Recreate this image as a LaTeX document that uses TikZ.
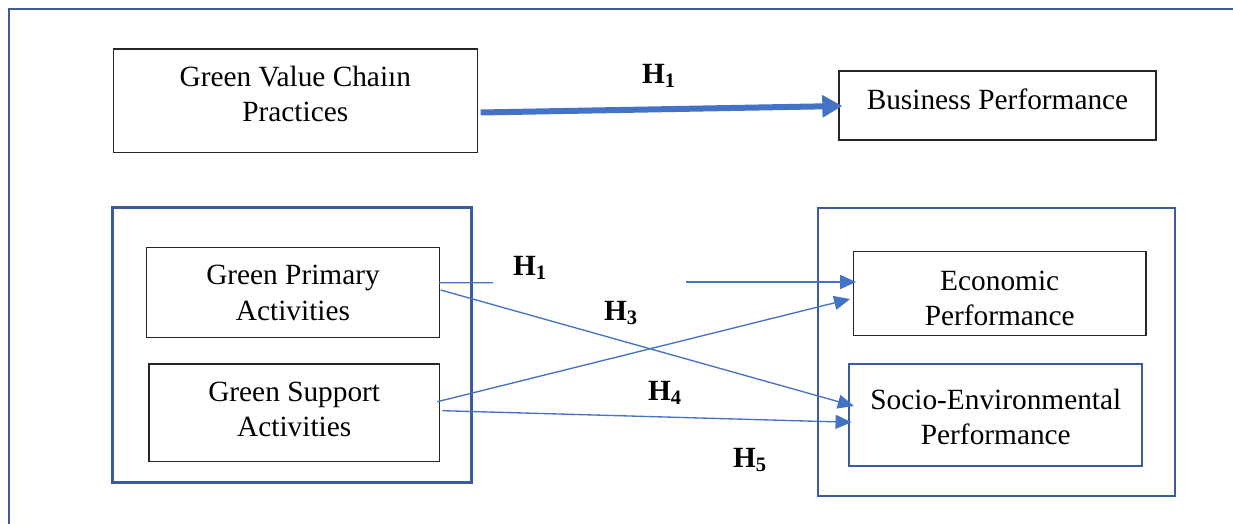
\documentclass[tikz,border=0pt]{standalone}
\usepackage{fontspec}
\setmainfont{Liberation Serif}
\usetikzlibrary{arrows.meta,calc}
\definecolor{arrblue}{HTML}{4472C4}
\definecolor{frameblue}{HTML}{3A5C9F}
\newcommand\liftby[2]{\raisebox{#1}[\height][\depth]{\begin{tabular}{@{}c@{}}#2\end{tabular}}}
\tikzset{
  txt/.style={font=\fontsize{22}{26.3}\selectfont, inner sep=0pt},
  blackbox/.style={txt, draw=black!85, line width=1pt, rectangle},
  bluebox/.style={txt, draw=frameblue, line width=1.7pt, rectangle},
  groupframe/.style={draw=frameblue, line width=2.2pt, rectangle, inner sep=0pt},
  hlabel/.style={font=\fontsize{22}{26}\selectfont\bfseries, inner sep=0pt},
  thinarr/.style={draw=arrblue, line width=1pt, -{Triangle[length=12pt,width=10.5pt]}},
  thinline/.style={draw=arrblue, line width=1pt},
  thickarr/.style={draw=arrblue, line width=4.5pt, -{Triangle[length=15pt,width=16pt]}}
}
\begin{document}
\begin{tikzpicture}[x=0.75pt,y=-0.75pt]
\useasboundingbox (0,0) rectangle (1233,524);
\clip (0,0) rectangle (1233,524);
% outer frame (partly outside the page)
\draw[frameblue, line width=2pt] (9,560) -- (9,9) -- (1260,9);

% top row
\node[blackbox, minimum width=273pt, minimum height=77.8pt] (gvcp) at (295.3,100.9) {\liftby{3pt}{Green Value Chaiın\\Practices}};
\node[blackbox, minimum width=237.75pt, minimum height=51.75pt] (bp) at (997.5,105.5) {\liftby{2.25pt}{Business Performance}};

% group frames
\node[groupframe, minimum width=268.7pt, minimum height=206.5pt] (lf) at (291.9,345) {};
\node[groupframe, minimum width=267.75pt, minimum height=216pt] (rf) at (996.5,352) {};

% inner boxes
\node[blackbox, minimum width=219.5pt, minimum height=67.2pt] (gpa) at (293,292.5) {\liftby{-2.25pt}{Green Primary\\Activities}};
\node[blackbox, minimum width=217.7pt, minimum height=73.3pt] (gsa) at (294.2,412.9) {\liftby{0.5pt}{Green Support\\Activities}};
\node[blackbox, minimum width=219.5pt, minimum height=63pt] (econ) at (999.7,293.7) {\liftby{-5.25pt}{Economic\\Performance}};
\node[bluebox, minimum width=219.75pt, minimum height=76.3pt] (socio) at (995.8,415.2) {\liftby{-3.5pt}{Socio-Environmental\\Performance}};

% thick arrow
\draw[thickarr] ($(gvcp.east)+(2.7,11.6)$) -- ($(bp.west)+(4,0.5)$);
\node[hlabel] (h1top) at (659,76) {H\textsubscript{1}};

% broken H1 arrow
\coordinate (h1a) at (493,282.7);
\coordinate (h1b) at (686,282);
\draw[thinline] ($(gpa.east)+(-1,-9.8)$) -- (h1a);
\draw[thinarr] (h1b) -- ($(econ.west)+(3.4,-11.7)$);

% crossing arrows
\draw[thinarr] ($(gpa.east)+(0.7,-2.5)$) -- ($(socio.west)+(5.7,-9.2)$);
\draw[thinarr] ($(gsa.east)+(-2.6,-11.2)$) -- ($(econ.west)+(-2.6,5.3)$);
\draw[thinarr] ($(gsa.east)+(2.4,-2.2)$) -- ($(socio.west)+(3.4,7.1)$);

% labels
\node[hlabel] (h1) at (530,268) {H\textsubscript{1}};
\node[hlabel] (h3) at (621,313) {H\textsubscript{3}};
\node[hlabel] (h4) at (665,393) {H\textsubscript{4}};
\node[hlabel] (h5) at (750,460) {H\textsubscript{5}};
\end{tikzpicture}
\end{document}
